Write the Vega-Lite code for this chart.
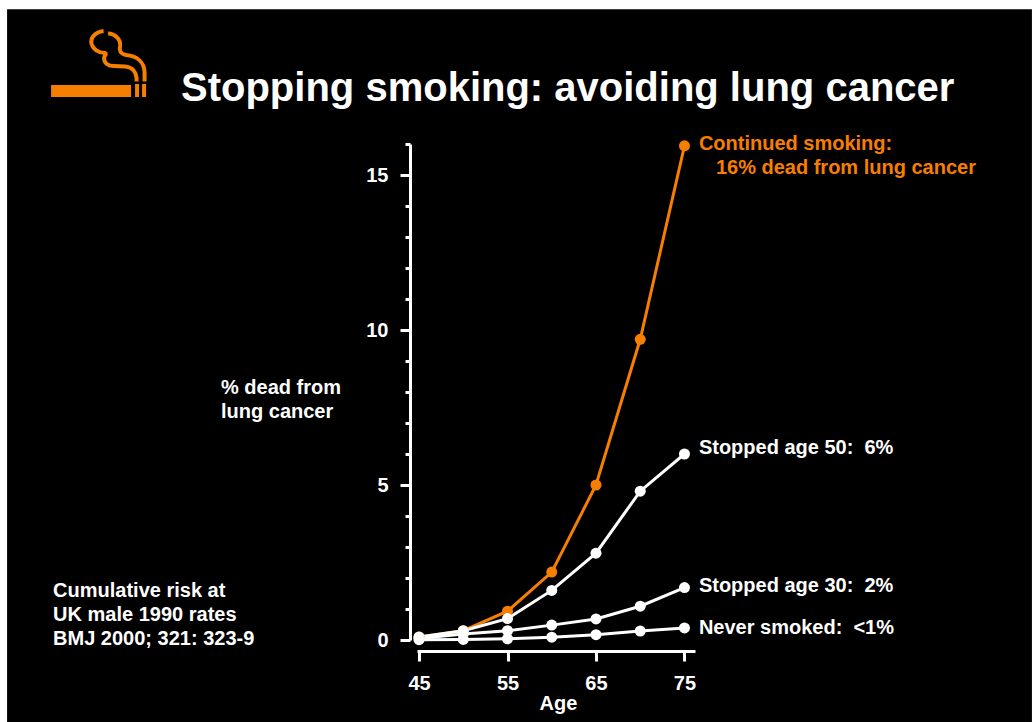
{
  "$schema": "https://vega.github.io/schema/vega-lite/v6.json",
  "width": 278,
  "height": 496,
  "autosize": "none",
  "padding": {"left": 417, "top": 144, "right": 337, "bottom": 82},
  "background": "white",
  "view": {"stroke": null},
  "config": {"font": "Liberation Sans"},
  "title": {
    "text": "Stopping smoking: avoiding lung cancer",
    "anchor": "start",
    "frame": "group",
    "dx": -236,
    "offset": -132,
    "baseline": "alphabetic",
    "font": "Liberation Sans",
    "fontSize": 40,
    "fontWeight": "bold",
    "color": "white"
  },
  "datasets": {
    "risk": [
      {"age": 45, "pct": 0.1, "series": "Continued smoking"},
      {"age": 50, "pct": 0.3, "series": "Continued smoking"},
      {"age": 55, "pct": 0.93, "series": "Continued smoking"},
      {"age": 60, "pct": 2.19, "series": "Continued smoking"},
      {"age": 65, "pct": 5.0, "series": "Continued smoking"},
      {"age": 70, "pct": 9.7, "series": "Continued smoking"},
      {"age": 75, "pct": 15.94, "series": "Continued smoking"},
      {"age": 45, "pct": 0.1, "series": "Stopped age 50"},
      {"age": 50, "pct": 0.3, "series": "Stopped age 50"},
      {"age": 55, "pct": 0.69, "series": "Stopped age 50"},
      {"age": 60, "pct": 1.6, "series": "Stopped age 50"},
      {"age": 65, "pct": 2.8, "series": "Stopped age 50"},
      {"age": 70, "pct": 4.8, "series": "Stopped age 50"},
      {"age": 75, "pct": 6.0, "series": "Stopped age 50"},
      {"age": 45, "pct": 0.05, "series": "Stopped age 30"},
      {"age": 50, "pct": 0.19, "series": "Stopped age 30"},
      {"age": 55, "pct": 0.3, "series": "Stopped age 30"},
      {"age": 60, "pct": 0.48, "series": "Stopped age 30"},
      {"age": 65, "pct": 0.68, "series": "Stopped age 30"},
      {"age": 70, "pct": 1.09, "series": "Stopped age 30"},
      {"age": 75, "pct": 1.69, "series": "Stopped age 30"},
      {"age": 45, "pct": 0.01, "series": "Never smoked"},
      {"age": 50, "pct": 0.02, "series": "Never smoked"},
      {"age": 55, "pct": 0.04, "series": "Never smoked"},
      {"age": 60, "pct": 0.09, "series": "Never smoked"},
      {"age": 65, "pct": 0.17, "series": "Never smoked"},
      {"age": 70, "pct": 0.29, "series": "Never smoked"},
      {"age": 75, "pct": 0.39, "series": "Never smoked"}
    ],
    "notes": [
      {"age": 76.63, "pct": 16.0, "note": "Continued smoking:", "tone": "orange"},
      {"age": 78.55, "pct": 15.23, "note": "16% dead from lung cancer", "tone": "orange"},
      {"age": 76.63, "pct": 6.2, "note": "Stopped age 50:\u00a0 6%", "tone": "white"},
      {"age": 76.63, "pct": 1.74, "note": "Stopped age 30:\u00a0 2%", "tone": "white"},
      {"age": 76.63, "pct": 0.39, "note": "Never smoked:\u00a0 <1%", "tone": "white"},
      {"age": 22.62, "pct": 8.13, "note": "% dead from", "tone": "white"},
      {"age": 22.62, "pct": 7.36, "note": "lung cancer", "tone": "white"},
      {"age": 3.64, "pct": 1.58, "note": "Cumulative risk at", "tone": "white"},
      {"age": 3.64, "pct": 0.81, "note": "UK male 1990 rates", "tone": "white"},
      {"age": 3.64, "pct": 0.03, "note": "BMJ 2000; 321: 323-9", "tone": "white"}
    ]
  },
  "data": {"name": "risk"},
  "layer": [
    {
      "description": "Black slide panel behind everything; carries the labelled axes",
      "data": {"values": [{"panel": "slide"}]},
      "mark": {"type": "rect", "fill": "black", "clip": false},
      "encoding": {
        "x": {"datum": -1.56, "type": "quantitative", "scale": {"domain": [44.77, 76.19], "nice": false, "zero": false}, "axis": {
          "values": [45, 55, 65, 75],
          "title": "Age",
          "titleColor": "white",
          "titleFont": "Liberation Sans",
          "titleFontSize": 20,
          "titleFontWeight": "bold",
          "titlePadding": 0,
          "titleX": 141,
          "offset": 11,
          "zindex": 1,
          "grid": false,
          "domainColor": "white",
          "domainWidth": 3,
          "tickColor": "white",
          "tickWidth": 3,
          "tickSize": 10,
          "labelColor": "white",
          "labelFont": "Liberation Sans",
          "labelFontSize": 20,
          "labelFontWeight": "bold",
          "labelPadding": 12,
          "labelFlush": false,
          "labelOverlap": false
        }},
        "x2": {"datum": 114.27},
        "y": {"datum": 20.35, "type": "quantitative", "scale": {"domain": [0, 16], "nice": false}, "axis": {
          "orient": "left",
          "values": [0, 5, 10, 15],
          "title": null,
          "offset": 7,
          "zindex": 1,
          "grid": false,
          "domainColor": "white",
          "domainWidth": 3,
          "tickColor": "white",
          "tickWidth": 3,
          "tickSize": 10,
          "labelColor": "white",
          "labelFont": "Liberation Sans",
          "labelFontSize": 20,
          "labelFontWeight": "bold",
          "labelPadding": 12,
          "labelOverlap": false
        }},
        "y2": {"datum": -2.65}
      }
    },
    {
      "description": "Cigarette body and filter bands; carries the unlabelled minor ticks",
      "data": {"values": [{"part": "cigarette"}]},
      "mark": {"type": "point", "filled": true, "fill": "#F77F00", "opacity": 1, "clip": false, "size": 10000,
        "shape": "M-.98,.5 L.62,.5 L.62,.74 L-.98,.74 Z M.70,.48 L.78,.48 L.78,.74 L.70,.74 Z M.84,.48 L.92,.48 L.92,.74 L.84,.74 Z"},
      "encoding": {
        "x": {"datum": 8.95, "type": "quantitative"},
        "y": {"datum": 18.71, "type": "quantitative", "axis": {
          "orient": "left",
          "values": [1, 2, 3, 4, 6, 7, 8, 9, 11, 12, 13, 14, 16],
          "title": null,
          "labels": false,
          "domain": false,
          "offset": 7,
          "zindex": 1,
          "grid": false,
          "tickColor": "white",
          "tickWidth": 3,
          "tickSize": 5
        }}
      }
    },
    {
      "description": "Two curling wisps of smoke",
      "data": {"values": [{"part": "smoke"}]},
      "mark": {"type": "point", "filled": false, "stroke": "#F77F00", "strokeWidth": 4, "opacity": 1, "clip": false, "size": 10000,
        "shape": "M.16,-.53 C.30,-.53 .42,-.40 .40,-.28 C.38,-.20 .40,-.12 .52,-.10 C.74,-.08 .88,.04 .89,.24 L.89,.43 M.07,-.58 C-.10,-.56 -.20,-.44 -.17,-.32 C-.14,-.22 -.04,-.14 .10,-.14 C.14,-.12 .08,-.08 .08,-.04 C.08,.06 .16,.12 .28,.12 L.50,.13 C.66,.14 .72,.26 .73,.36 L.73,.43"},
      "encoding": {
        "x": {"datum": 8.95, "type": "quantitative"},
        "y": {"datum": 18.71, "type": "quantitative", "axis": null}
      }
    },
    {
      "mark": {"type": "line", "strokeWidth": 3, "clip": false},
      "encoding": {
        "x": {"field": "age", "type": "quantitative"},
        "y": {"field": "pct", "type": "quantitative", "axis": null},
        "detail": {"field": "series"},
        "order": {"field": "age"},
        "color": {"field": "series", "type": "nominal", "legend": null, "sort": null,
          "scale": {"domain": ["Continued smoking", "Stopped age 50", "Stopped age 30", "Never smoked"], "range": ["#F77F00", "white", "white", "white"]}}
      }
    },
    {
      "mark": {"type": "point", "filled": true, "opacity": 1, "size": 121, "clip": false},
      "encoding": {
        "x": {"field": "age", "type": "quantitative"},
        "y": {"field": "pct", "type": "quantitative", "axis": null},
        "color": {"field": "series", "type": "nominal", "legend": null,
          "scale": {"domain": ["Continued smoking", "Stopped age 50", "Stopped age 30", "Never smoked"], "range": ["#F77F00", "white", "white", "white"]}}
      }
    },
    {
      "data": {"name": "notes"},
      "mark": {"type": "text", "align": "left", "baseline": "middle", "font": "Liberation Sans", "fontSize": 20, "fontWeight": "bold", "clip": false},
      "encoding": {
        "x": {"field": "age", "type": "quantitative"},
        "y": {"field": "pct", "type": "quantitative", "axis": null},
        "text": {"field": "note"},
        "color": {"field": "tone", "type": "nominal", "legend": null, "scale": {"domain": ["orange", "white"], "range": ["#F77F00", "white"]}}
      }
    }
  ],
  "resolve": {"scale": {"color": "independent"}, "axis": {"y": "independent"}}
}
